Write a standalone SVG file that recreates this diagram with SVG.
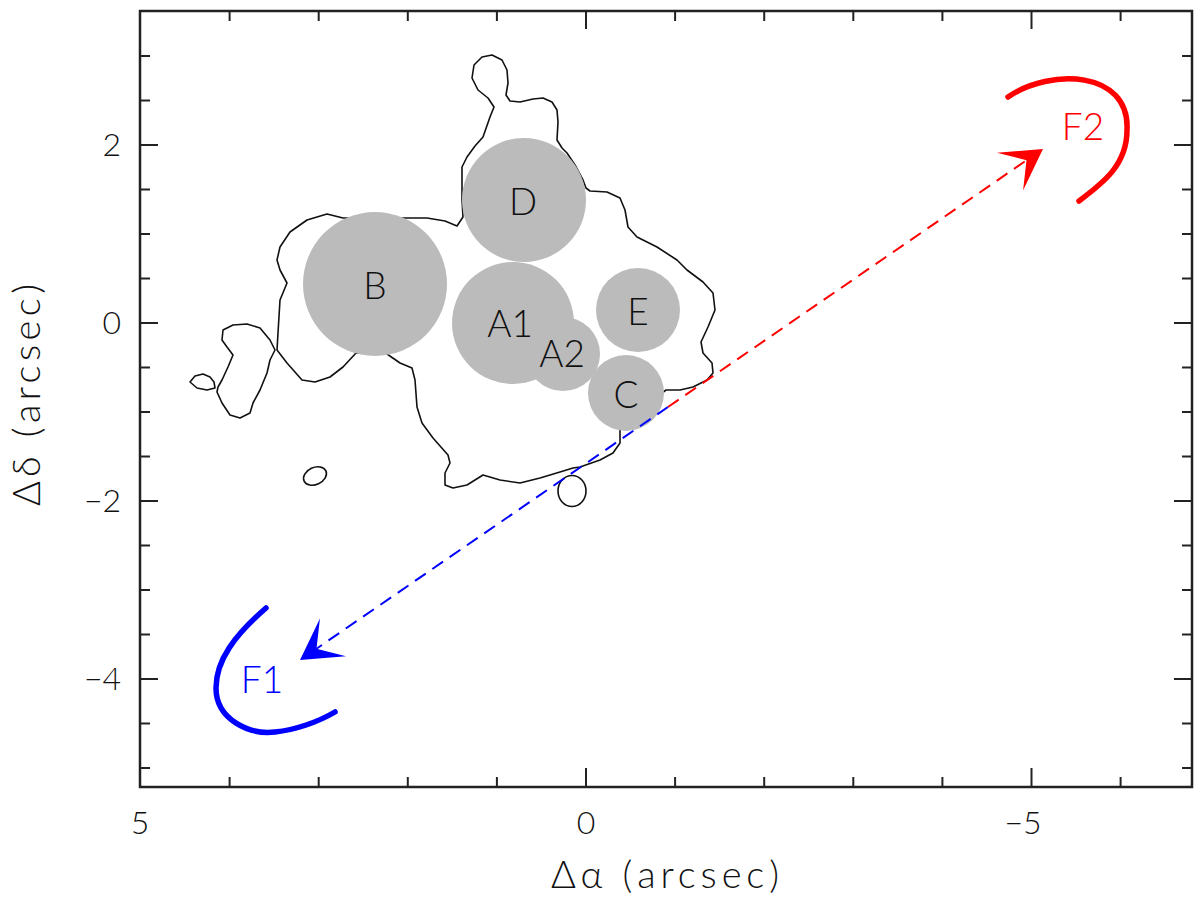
<svg xmlns="http://www.w3.org/2000/svg" width="1200" height="904" viewBox="0 0 1200 904">
<style>
.frame{fill:none;stroke:#222;stroke-width:2.5}
.tick{stroke:#222;stroke-width:2}
.f{font-family:Lato,"Liberation Sans",Arial,sans-serif;font-weight:300}
.lbl{font-size:32px;fill:#111}
.title{font-size:38px;fill:#111}
.cont{fill:none;stroke:#111;stroke-width:1.6;stroke-linejoin:round}
.blob{fill:#bbbbbb}
.ctext{font-size:37px;fill:#111;text-anchor:middle;dominant-baseline:central}
.dash{fill:none;stroke-width:2;stroke-dasharray:13 8}
.arc{fill:none;stroke-width:5.5;stroke-linecap:round}
</style>
<defs>
<marker id="ahR" markerUnits="userSpaceOnUse" viewBox="-45 -25 50 50" markerWidth="50" markerHeight="50" refX="-20" refY="0" orient="auto" overflow="visible">
<path d="M0,0 L-40,-23 L-20,0 L-40,23 Z" fill="#ff0000"/>
</marker>
<marker id="ahB" markerUnits="userSpaceOnUse" viewBox="-45 -25 50 50" markerWidth="50" markerHeight="50" refX="-20" refY="0" orient="auto" overflow="visible">
<path d="M0,0 L-40,-23 L-20,0 L-40,23 Z" fill="#0000ff"/>
</marker>
</defs>
<rect width="1200" height="904" fill="#fff"/>
<g id="axes">
<rect class="frame" x="140" y="11" width="1052" height="776"/>
<g class="tick">
<line x1="229.6" y1="787" x2="229.6" y2="777"/>
<line x1="318.7" y1="787" x2="318.7" y2="777"/>
<line x1="407.8" y1="787" x2="407.8" y2="777"/>
<line x1="496.9" y1="787" x2="496.9" y2="777"/>
<line x1="586" y1="787" x2="586" y2="768"/>
<line x1="675.1" y1="787" x2="675.1" y2="777"/>
<line x1="764.2" y1="787" x2="764.2" y2="777"/>
<line x1="853.3" y1="787" x2="853.3" y2="777"/>
<line x1="942.4" y1="787" x2="942.4" y2="777"/>
<line x1="1031.5" y1="787" x2="1031.5" y2="768"/>
<line x1="1120.6" y1="787" x2="1120.6" y2="777"/>
<line x1="229.6" y1="11" x2="229.6" y2="21"/>
<line x1="318.7" y1="11" x2="318.7" y2="21"/>
<line x1="407.8" y1="11" x2="407.8" y2="21"/>
<line x1="496.9" y1="11" x2="496.9" y2="21"/>
<line x1="586" y1="11" x2="586" y2="29"/>
<line x1="675.1" y1="11" x2="675.1" y2="21"/>
<line x1="764.2" y1="11" x2="764.2" y2="21"/>
<line x1="853.3" y1="11" x2="853.3" y2="21"/>
<line x1="942.4" y1="11" x2="942.4" y2="21"/>
<line x1="1031.5" y1="11" x2="1031.5" y2="29"/>
<line x1="1120.6" y1="11" x2="1120.6" y2="21"/>
<line x1="140" y1="56" x2="150" y2="56"/>
<line x1="140" y1="100.5" x2="150" y2="100.5"/>
<line x1="140" y1="145" x2="158" y2="145"/>
<line x1="140" y1="189.5" x2="150" y2="189.5"/>
<line x1="140" y1="234" x2="150" y2="234"/>
<line x1="140" y1="278.5" x2="150" y2="278.5"/>
<line x1="140" y1="323" x2="158" y2="323"/>
<line x1="140" y1="367.5" x2="150" y2="367.5"/>
<line x1="140" y1="412" x2="150" y2="412"/>
<line x1="140" y1="456.5" x2="150" y2="456.5"/>
<line x1="140" y1="501" x2="158" y2="501"/>
<line x1="140" y1="545.5" x2="150" y2="545.5"/>
<line x1="140" y1="590" x2="150" y2="590"/>
<line x1="140" y1="634.5" x2="150" y2="634.5"/>
<line x1="140" y1="679" x2="158" y2="679"/>
<line x1="140" y1="723.5" x2="150" y2="723.5"/>
<line x1="140" y1="768" x2="150" y2="768"/>
<line x1="1192" y1="56" x2="1182" y2="56"/>
<line x1="1192" y1="100.5" x2="1182" y2="100.5"/>
<line x1="1192" y1="145" x2="1174" y2="145"/>
<line x1="1192" y1="189.5" x2="1182" y2="189.5"/>
<line x1="1192" y1="234" x2="1182" y2="234"/>
<line x1="1192" y1="278.5" x2="1182" y2="278.5"/>
<line x1="1192" y1="323" x2="1174" y2="323"/>
<line x1="1192" y1="367.5" x2="1182" y2="367.5"/>
<line x1="1192" y1="412" x2="1182" y2="412"/>
<line x1="1192" y1="456.5" x2="1182" y2="456.5"/>
<line x1="1192" y1="501" x2="1174" y2="501"/>
<line x1="1192" y1="545.5" x2="1182" y2="545.5"/>
<line x1="1192" y1="590" x2="1182" y2="590"/>
<line x1="1192" y1="634.5" x2="1182" y2="634.5"/>
<line x1="1192" y1="679" x2="1174" y2="679"/>
<line x1="1192" y1="723.5" x2="1182" y2="723.5"/>
<line x1="1192" y1="768" x2="1182" y2="768"/>
</g>
<g class="f lbl">
<text x="140" y="834" text-anchor="middle">5</text>
<text x="586" y="834" text-anchor="middle">0</text>
<text x="1023" y="834" text-anchor="middle">−5</text>
<text x="121" y="156" text-anchor="end">2</text>
<text x="121" y="334" text-anchor="end">0</text>
<text x="121" y="512" text-anchor="end">−2</text>
<text x="121" y="690" text-anchor="end">−4</text>
</g>
<text class="f title" x="665" y="888" text-anchor="middle" textLength="228" lengthAdjust="spacing">Δα (arcsec)</text>
<text class="f title" transform="translate(40,395) rotate(-90)" text-anchor="middle" textLength="222" lengthAdjust="spacing">Δδ (arcsec)</text>
</g>
<g id="contour">
<path class="cont" d="M483,137 L490,117 L494,107 L488,98 L478,90 L472,78 L474,65 L482,57 L492,55 L502,60 L507,70 L508,83 L506,95 L510,101 L520,102 L533,99 L543,98 L552,102 L557,110 L558,122 L557,140 L562,148 L567,153 L575,165 L583,180 L586,188 L590,191 L607,192 L620,198 L625,210 L628,227 L637,237 L657,247 L677,260 L687,270 L703,282 L713,293 L715,310 L708,327 L701,342 L703,353 L712,363 L713,373 L707,380 L693,387 L680,390 L666,390 L640,410 L620,430 L620,443 L613,453 L600,460 L580,467 L573,468 L560,472 L540,478 L520,483 L500,480 L483,475 L467,485 L453,488 L445,485 L445,473 L450,463 L448,455 L433,438 L422,423 L417,407 L415,380 L412,368 L400,363 L387,354 L356,353 L343,367 L330,377 L315,382 L302,380 L287,363 L277,350 L278,333 L280,300 L287,283 L280,270 L277,260 L280,247 L290,232 L307,220 L327,214 L343,218 L407,218 L427,218 L445,221 L457,226 L463,217 L462,200 L462,167 L467,157 L475,146 Z"/>
<path class="cont" d="M275,350 L270,340 L260,328 L247,324 L233,325 L223,330 L222,340 L227,347 L233,355 L228,367 L222,380 L218,387 L217,392 L222,403 L230,415 L240,418 L250,413 L253,403 L260,390 L267,373 L270,360 Z"/>
<path class="cont" d="M190,382 L195,376 L203,374 L210,377 L214,382 L215,388 L207,390 L197,388 Z"/>
<ellipse class="cont" cx="315" cy="476" rx="12" ry="8.5" transform="rotate(-25 315 476)"/>
<ellipse class="cont" cx="572" cy="491" rx="14" ry="15.5"/>
</g>
<g id="B"><circle class="blob" cx="375" cy="284" r="72"/><text class="f ctext" x="375" y="284">B</text></g>
<g id="D"><circle class="blob" cx="524" cy="200" r="62"/><text class="f ctext" x="523" y="200">D</text></g>
<g id="A1"><circle class="blob" cx="513" cy="323" r="61"/><text class="f ctext" x="510" y="322">A1</text></g>
<g id="A2"><circle class="blob" cx="563" cy="354" r="37"/><text class="f ctext" x="562" y="352">A2</text></g>
<g id="E"><circle class="blob" cx="638" cy="310" r="42"/><text class="f ctext" x="638" y="310">E</text></g>
<g id="C"><circle class="blob" cx="626" cy="393" r="38"/><text class="f ctext" x="626" y="393">C</text></g>
<g id="connectors">
<path class="dash" stroke="#ff0000" d="M668,407 L1026.5,160.3" marker-end="url(#ahR)"/>
<path class="dash" stroke="#0000ff" d="M668,407 L316.5,648.7" marker-end="url(#ahB)"/>
</g>
<g id="F2">
<path class="arc" stroke="#ff0000" d="M1008,97 C1050,68 1130,70 1127,130 C1127,165 1103,183 1079,201"/>
<text class="f" x="1083" y="125" font-size="37" fill="#ff0000" text-anchor="middle" dominant-baseline="central">F2</text>
</g>
<g id="F1">
<path class="arc" stroke="#0000ff" d="M266,608 C235,635 216,660 216,688 C216,720 250,735 275,732 C295,730 318,722 335,712"/>
<text class="f" x="262" y="678" font-size="37" fill="#0000ff" text-anchor="middle" dominant-baseline="central">F1</text>
</g>
</svg>
